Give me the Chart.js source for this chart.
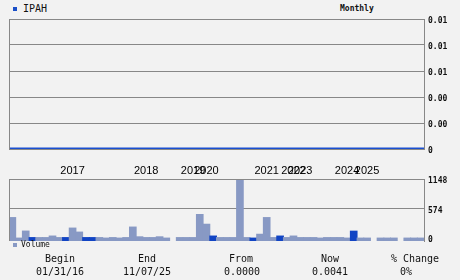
<!DOCTYPE html>
<html>
<head>
<meta charset="utf-8">
<script src="https://cdn.jsdelivr.net/npm/chart.js@4.4.1/dist/chart.umd.min.js"></script>
<style>
  body { margin: 0; width: 460px; height: 280px; background: #f2f2f2; position: relative; overflow: hidden;
         font-family: "DejaVu Sans Mono", monospace; color: #111; }
  canvas { position: absolute; left: 0; }
  #priceChart { top: 0; }
  #volChart { top: 150px; }
  .t { position: absolute; white-space: nowrap; }
  .sq { position: absolute; width: 4px; height: 4px; }
  .st { position: absolute; font-size: 10px; line-height: 12px; white-space: nowrap; transform: translateX(-50%); }
</style>
</head>
<body>
<div class="sq" style="left:13px;top:7px;background:#1a4fc8"></div>
<div class="t" style="left:23px;top:3px;font-size:10px;line-height:12px">IPAH</div>
<div class="t" style="left:340px;top:4px;font-size:8px;line-height:10px;font-weight:bold">Monthly</div>

<canvas id="priceChart" width="460" height="160"></canvas>
<canvas id="volChart" width="460" height="100"></canvas>

<div class="sq" style="left:13px;top:243px;background:#8899c4"></div>
<div class="t" style="left:21px;top:240px;font-size:8px;line-height:10px">Volume</div>

<div id="stats"></div>

<script>
// prijs (vlak op nul), 62 perioden
const price = [0, 0, 0, 0, 0, 0, 0, 0, 0, 0, 0, 0, 0, 0, 0, 0, 0, 0, 0, 0,
  0, 0, 0, 0, 0, 0, 0, 0, 0, 0, 0, 0, 0, 0, 0, 0, 0, 0, 0, 0,
  0, 0, 0, 0, 0, 0, 0, 0, 0, 0, 0, 0, 0, 0, 0, 0, 0, 0, 0, 0, 0, 0];

// volume per periode
const volume = [400, 0, 137, 10, 10, 10, 40, 10, 10, 195,
  117, 10, 10, 10, 0, 10, 0, 10, 215, 25,
  10, 10, 25, 0, null, 10, 10, 10, 460, 270,
  40, 10, 10, 10, 1148, 10, 0, 75, 400, 10,
  40, 10, 40, 10, 10, 10, 0, 10, 10, 10,
  0, 135, 0, 0, null, 0, 0, 0, null, 0, 0, 0];

// perioden met koersstijging (donkere balken)
const upIdx = [3, 8, 11, 12, 30, 36, 40, 51];

// jaartallen langs de as
const yearNames = ['2017', '2018', '2019', '2020', '2021', '2022', '2023', '2024', '2025'];
const yearIdx = [9, 20, 27, 29, 38, 42, 43, 50, 53];

const priceTicks = [0, 0.002, 0.004, 0.006, 0.008, 0.01];
const volTicks = [0, 574, 1148];

const statHead = ['Begin', 'End', 'From', 'Now', '% Change'];
const statVal = ['01/31/16', '11/07/25', '0.0000', '0.0041', '0%'];

const periods = volume.map((v, i) => i);

// statistiek onderaan
const headX = [60, 147, 241, 330, 415];
const valX = [60, 147, 242, 330, 406];
const stats = document.getElementById('stats');
statHead.forEach((h, i) => {
  stats.insertAdjacentHTML('beforeend',
    `<div class="st" style="left:${headX[i]}px;top:253px">${h}</div>` +
    `<div class="st" style="left:${valX[i]}px;top:266px">${statVal[i]}</div>`);
});

const gray = '#888';
const axisFont = { family: 'DejaVu Sans Mono', size: 8, weight: 'bold' };

// linker- en bovenrand van het plotvlak
const frame = {
  id: 'frame',
  afterDraw(chart) {
    const { ctx, chartArea: a } = chart;
    const x = Math.round(a.left) + 0.5, y = Math.round(a.top) + 0.5;
    ctx.save();
    ctx.strokeStyle = gray;
    ctx.lineWidth = 1;
    ctx.beginPath();
    ctx.moveTo(x, a.bottom);
    ctx.lineTo(x, y);
    ctx.lineTo(a.right, y);
    ctx.stroke();
    ctx.restore();
  }
};

Chart.defaults.animation = false;

new Chart(document.getElementById('priceChart'), {
  type: 'line',
  data: {
    labels: periods,
    datasets: [{ data: price, borderColor: '#1a4fd0', borderWidth: 3, pointRadius: 0 }]
  },
  options: {
    responsive: false,
    layout: { padding: { top: 19, left: 9, right: 0, bottom: 11 } },
    plugins: { legend: { display: false }, tooltip: { enabled: false } },
    scales: {
      x: { display: false },
      y: {
        position: 'right',
        min: 0, max: 0.01,
        afterBuildTicks: (s) => { s.ticks = priceTicks.map(v => ({ value: v })); },
        afterFit: (s) => { s.width = 36; },
        grid: { color: gray, drawTicks: false },
        border: { color: gray },
        ticks: {
          padding: 4, labelOffset: 2, color: '#111', font: axisFont,
          callback: (v) => v === 0 ? '0' : v.toFixed(2)
        }
      }
    }
  },
  plugins: [frame]
});

new Chart(document.getElementById('volChart'), {
  type: 'bar',
  data: {
    labels: periods,
    datasets: [{
      data: volume,
      base: -60,
      backgroundColor: (c) => upIdx.includes(c.dataIndex) ? '#1144c4' : '#8899c4',
      barThickness: 7
    }]
  },
  options: {
    responsive: false,
    layout: { padding: { top: 0, left: 9, right: 0, bottom: 9 } },
    plugins: { legend: { display: false }, tooltip: { enabled: false } },
    scales: {
      x: {
        position: 'top',
        afterFit: (s) => { s.height = 29; },
        grid: { display: false, drawTicks: false },
        border: { color: gray },
        ticks: {
          autoSkip: false, maxRotation: 0, minRotation: 0, padding: 1,
          color: '#000', font: { family: 'Liberation Sans', size: 11 },
          callback: (v, i) => {
            const k = yearIdx.indexOf(i);
            return k >= 0 ? yearNames[k] : '';
          }
        }
      },
      y: {
        position: 'right',
        min: -60, max: 1148,
        afterBuildTicks: (s) => { s.ticks = volTicks.map(v => ({ value: v })); },
        afterFit: (s) => { s.width = 36; },
        grid: { color: (c) => c.tick && c.tick.value === 0 ? 'rgba(0,0,0,0)' : gray, drawTicks: false },
        border: { color: gray },
        ticks: {
          padding: 4, labelOffset: 2, color: '#111', font: axisFont,
          callback: (v) => String(v)
        }
      }
    }
  },
  plugins: [frame]
});
</script>
</body>
</html>
